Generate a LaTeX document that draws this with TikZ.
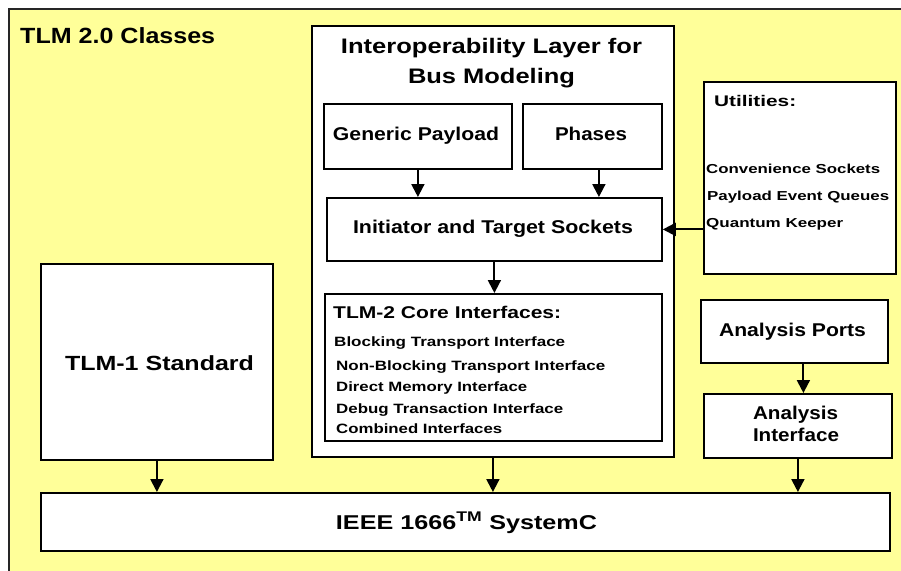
\documentclass[tikz,border=0pt]{standalone}
\usepackage{fontspec}
\setmainfont{Liberation Sans}
\usepackage{graphicx}
\usetikzlibrary{arrows.meta}
\definecolor{bgyellow}{RGB}{255,255,153}
\newcommand\tw[3]{\resizebox{#1pt}{\height}{\fontsize{#2pt}{#2pt}\selectfont\bfseries #3}}
\begin{document}
\begin{tikzpicture}[x=1pt,y=-1pt,
  box/.style={draw=black, line width=1.8pt, fill=white, inner sep=0pt, anchor=north west},
  lbl/.style={inner sep=0pt, anchor=base},
  lbw/.style={inner sep=0pt, anchor=base west},
  arr/.style={draw=black, line width=2pt, -{Triangle[width=13pt,length=13pt]}}]
\clip (0,0) rectangle (901,570);
\fill[white] (0,0) rectangle (901,570);
\node[draw=black!85, line width=1.8pt, fill=bgyellow, inner sep=0pt, anchor=north west,
      minimum width=920pt, minimum height=600pt] (outer) at (8,8) {};
% boxes
\node[box, minimum width=362pt, minimum height=431pt] (interop) at (311,25) {};
\node[box, minimum width=188pt, minimum height=65pt] (gp) at (323,103) {};
\node[box, minimum width=139pt, minimum height=65pt] (ph) at (522,103) {};
\node[box, minimum width=335pt, minimum height=63pt] (its) at (326,197) {};
\node[box, minimum width=337pt, minimum height=147pt] (core) at (324,293) {};
\node[box, minimum width=192pt, minimum height=192pt] (util) at (703,81) {};
\node[box, minimum width=187pt, minimum height=63pt] (ap) at (700,299) {};
\node[box, minimum width=188pt, minimum height=64pt] (ai) at (703,393) {};
\node[box, minimum width=232pt, minimum height=196pt] (tlm1) at (40,263) {};
\node[box, minimum width=849pt, minimum height=58pt] (sysc) at (40,492) {};
% arrows
\coordinate (phs) at ([xshift=6.5pt]ph.south);
\coordinate (aps) at ([xshift=9pt]ap.south);
\draw[arr] (gp.south) -- (gp.south |- its.north);
\draw[arr] (phs) -- (phs |- its.north);
\draw[arr] (its.south) -- (its.south |- core.north);
\draw[arr] (util.west |- its.east) -- (its.east);
\draw[arr] (aps) -- (aps |- ai.north);
\draw[arr] (tlm1.south) -- (tlm1.south |- sysc.north);
\draw[arr] (interop.south) -- (interop.south |- sysc.north);
\draw[arr] (ai.south) -- (ai.south |- sysc.north);
% texts
\node[lbw] (t0) at (20,43) {\tw{195}{22}{TLM 2.0 Classes}};
\node[lbl] (t1) at (491.5,53.3) {\tw{301}{21}{Interoperability Layer for}};
\node[lbl] (t2) at (491.5,83.3) {\tw{167}{21}{Bus Modeling}};
\node[lbl] (t3) at (416,140.7) {\tw{166}{18.5}{Generic Payload}};
\node[lbl] (t4) at (591,140.7) {\tw{72}{18.5}{Phases}};
\node[lbl] (t5) at (493,233) {\tw{280}{18.5}{Initiator and Target Sockets}};
\node[lbw] (t6) at (333,318.3) {\tw{228}{17}{TLM-2 Core Interfaces:}};
\node[lbw] (c1) at (334,346.7) {\tw{231}{13.5}{Blocking Transport Interface}};
\node[lbw] (c2) at (336,370) {\tw{269}{13.5}{Non-Blocking Transport Interface}};
\node[lbw] (c3) at (336,391.7) {\tw{191}{13.5}{Direct Memory Interface}};
\node[lbw] (c4) at (336,413.5) {\tw{227}{13.5}{Debug Transaction Interface}};
\node[lbw] (c5) at (336,433.3) {\tw{166}{13.5}{Combined Interfaces}};
\node[lbw] (u0) at (714,106) {\tw{82}{15.4}{Utilities:}};
\node[lbw] (u1) at (706,173.3) {\tw{174}{13}{Convenience Sockets}};
\node[lbw] (u2) at (707,200.7) {\tw{182}{13}{Payload Event Queues}};
\node[lbw] (u3) at (706,227.5) {\tw{137}{13}{Quantum Keeper}};
\node[lbl] (a1) at (792.5,336) {\tw{147}{18.5}{Analysis Ports}};
\node[lbl] (a2) at (795.5,419.3) {\tw{85}{18.5}{Analysis}};
\node[lbl] (a3) at (796,441.7) {\tw{86}{18.5}{Interface}};
\node[lbl] (s1) at (159.5,370.7) {\tw{189}{20.5}{TLM-1 Standard}};
\node[lbl] (s2) at (466.5,529.3) {\tw{261}{20}{IEEE 1666\textsuperscript{TM} SystemC}};
\end{tikzpicture}
\end{document}
